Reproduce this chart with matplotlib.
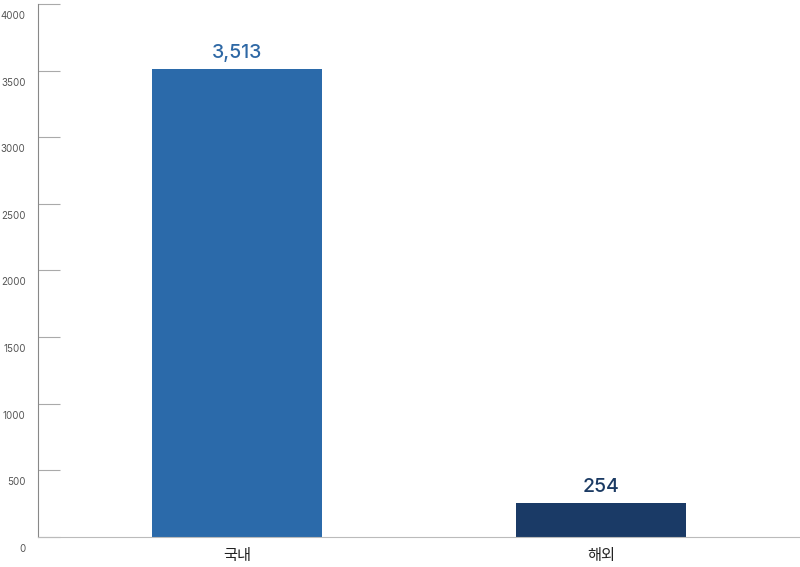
import matplotlib
matplotlib.use("Agg")
import matplotlib.pyplot as plt
import matplotlib.transforms as mtransforms

plt.rcParams['font.family'] = ['Inter', 'Noto Sans CJK KR', 'DejaVu Sans']

categories = ['국내', '해외']
values = [3513, 254]
colors = ['#2b6aaa', '#1a3a66']
label_colors = ['#2e68a5', '#1b3a63']
yticks = [0, 500, 1000, 1500, 2000, 2500, 3000, 3500, 4000]

fig = plt.figure(figsize=(8, 5.67), dpi=100)
ax = fig.add_axes([0.0475, 0.0529, 0.9525, 0.9401])

x = range(len(categories))
bars = ax.bar(x, values, width=0.467, color=colors)

for b, v, c in zip(bars, values, label_colors):
    ax.annotate(f'{v:,}', (b.get_x() + b.get_width() / 2, v),
                xytext=(0, 5), textcoords='offset points',
                ha='center', va='bottom', fontsize=14, fontweight='medium',
                color=c)

ax.set_xlim(-0.547, 1.547)
ax.set_ylim(0, 4000)
ax.set_xticks(list(x))
ax.set_xticklabels(categories, fontsize=11, color='#222222')
ax.tick_params(axis='x', length=0, pad=8)

ax.set_yticks(yticks)
ax.set_yticklabels([str(t) for t in yticks], fontsize=7, color='#555555')
ax.tick_params(axis='y', direction='in', length=16, width=0.8,
               color='#aaaaaa', pad=9)
offset = mtransforms.ScaledTranslation(0, -11 / 100, fig.dpi_scale_trans)
for lab in ax.get_yticklabels():
    lab.set_transform(lab.get_transform() + offset)

for s in ['top', 'right']:
    ax.spines[s].set_visible(False)
ax.spines['left'].set_color('#888888')
ax.spines['left'].set_linewidth(0.8)
ax.spines['bottom'].set_color('#bbbbbb')
ax.spines['bottom'].set_linewidth(0.8)

fig.savefig('out.png', dpi=100)
